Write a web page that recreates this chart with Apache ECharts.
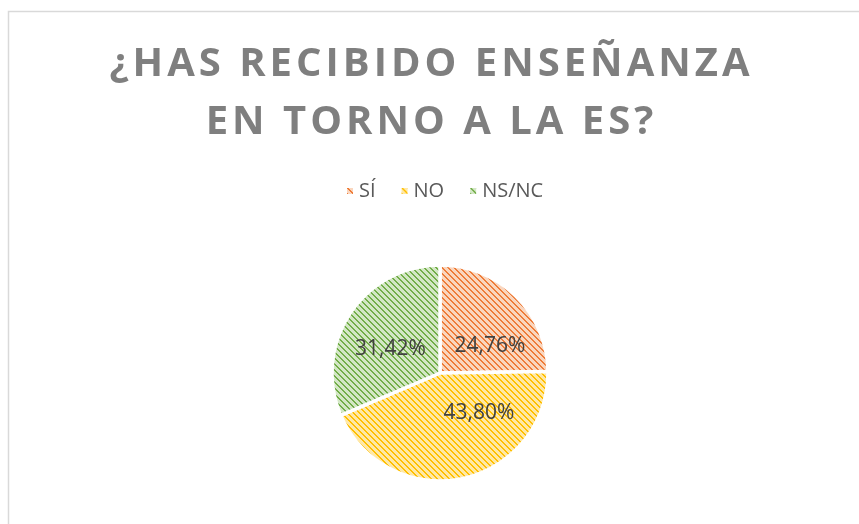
<!DOCTYPE html>
<html>
<head>
<meta charset="utf-8">
<script src="https://cdn.jsdelivr.net/npm/echarts@6/dist/echarts.min.js"></script>
<style>html,body{margin:0;padding:0;background:#fff;}#c{width:859px;height:524px;}</style>
</head>
<body>
<div id="c"></div>
<script>
const titleLines = ['¿HAS RECIBIDO ENSEÑANZA', 'EN TORNO A LA ES?'];
const categories = ['SÍ', 'NO', 'NS/NC'];
const values = [24.76, 43.80, 31.42];
const stripeColors = ['#EE7C38', '#FFBF00', '#72AD48'];
const bgColors = ['#FAD6BE', '#FFE8A6', '#D3E7C5'];
const labelOffsets = [[10, 14], [27, -16], [-2, 7]];

function makePattern(fg, bg) {
  const size = 6;
  const cv = document.createElement('canvas');
  cv.width = size; cv.height = size;
  const ctx = cv.getContext('2d');
  ctx.fillStyle = bg;
  ctx.fillRect(0, 0, size, size);
  ctx.fillStyle = fg;
  for (let y = 0; y < size; y++) {
    for (let x = 0; x < size; x++) {
      const d = ((x - y) % size + size) % size;
      if (d < 2) ctx.fillRect(x, y, 1, 1);
    }
  }
  return { image: cv, repeat: 'repeat' };
}

function spaced(s) {
  return s.split('').join('\u200A');
}

const chart = echarts.init(document.getElementById('c'), null, { renderer: 'canvas' });
const data = categories.map((c, i) => ({
  name: c,
  value: values[i],
  itemStyle: { color: makePattern(stripeColors[i], bgColors[i]) },
  label: { offset: labelOffsets[i] }
}));

chart.setOption({
  backgroundColor: '#ffffff',
  animation: false,
  graphic: [{
    type: 'rect',
    shape: { x: 8.5, y: 11.5, width: 900, height: 600 },
    style: { fill: 'none', stroke: '#D9D9D9', lineWidth: 1.5 },
    silent: true
  }],
  title: {
    text: titleLines.map(spaced).join('\n'),
    left: 'center',
    top: 31,
    textStyle: {
      fontFamily: 'Open Sans',
      fontWeight: 'bold',
      fontSize: 40,
      lineHeight: 58,
      color: '#7F7F7F'
    }
  },
  legend: {
    data: categories,
    top: 176,
    left: 340,
    icon: 'rect',
    itemWidth: 8,
    itemHeight: 8,
    itemGap: 24,
    textStyle: { fontFamily: 'Open Sans', fontSize: 20, color: '#595959' }
  },
  series: [{
    type: 'pie',
    center: [440, 373],
    radius: [0, 108],
    startAngle: 90,
    clockwise: true,
    data: data,
    itemStyle: { borderColor: '#ffffff', borderWidth: 3.5 },
    label: {
      show: true,
      position: 'inside',
      formatter: p => p.value.toFixed(2).replace('.', ',') + '%',
      fontFamily: 'Open Sans',
      fontSize: 21,
      color: '#404040'
    },
    labelLine: { show: false },
    emphasis: { disabled: true }
  }]
});
</script>
</body>
</html>
